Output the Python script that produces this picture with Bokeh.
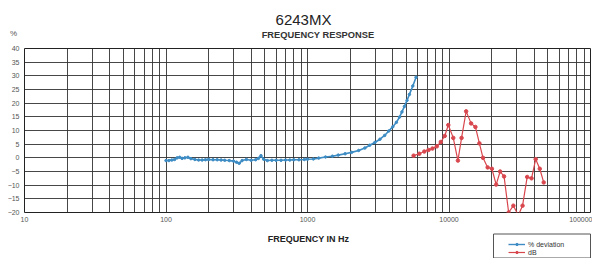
from bokeh.plotting import figure
from bokeh.layouts import column
from bokeh.models import FixedTicker, PrintfTickFormatter, Legend, LegendItem, Range1d
from bokeh.core.properties import value
from bokeh.embed import file_html
from bokeh.resources import INLINE

# ---- data ----
dev_freq = [100, 105, 110, 115, 120, 125, 130, 136, 143, 150, 160, 170, 180, 190, 200,
            215, 230, 245, 260, 280, 300, 315, 329, 345, 370, 400, 430, 450, 469, 490,
            520, 560, 600, 650, 700, 750, 800, 870, 950, 1000, 1100, 1200, 1340, 1500,
            1650, 1845, 2050, 2300, 2545, 2750, 2990, 3250, 3510, 3750, 4010, 4250,
            4470, 4650, 4840, 5050, 5250, 5550, 5850]
dev_pct = [-1.0, -1.0, -0.8, -0.6, 0.0, 0.2, -0.2, 0.0, 0.2, -0.3, -0.6, -0.8, -0.8, -0.7, -0.6,
           -0.7, -0.7, -0.8, -0.9, -1.0, -1.2, -1.6, -2.0, -1.0, -0.6, -0.9, -0.7, -0.2, 0.8, -0.5,
           -1.0, -0.9, -0.9, -0.9, -0.8, -0.8, -0.7, -0.7, -0.6, -0.5, -0.4, -0.1, 0.3, 0.6,
           1.0, 1.5, 2.0, 2.7, 3.6, 4.6, 5.6, 6.8, 8.2, 9.8, 11.4, 13.0,
           14.9, 16.8, 18.8, 21.0, 23.2, 26.3, 29.5]

db_freq = [5620, 6170, 6690, 7170, 7640, 8200, 8750, 9330, 9890, 10720, 11560, 12270,
           13220, 14330, 15370, 16400, 17390, 18750, 20100, 21550, 22980, 24500, 26400,
           28500, 30900, 33100, 35700, 38300, 41000, 43800, 46700]
db_val = [0.8, 1.5, 2.3, 2.9, 3.4, 4.2, 5.8, 8.0, 12.0, 7.3, -1.0, 7.3,
          17.0, 12.6, 11.3, 5.3, 0.0, -3.5, -4.0, -9.8, -5.0, -6.8, -20.0,
          -17.5, -21.0, -17.5, -7.0, -7.5, -0.5, -4.0, -9.0]

x_major = [10, 100, 1000, 10000, 100000]
x_minor = [m * d for d in [10, 100, 1000, 10000] for m in range(2, 10)]
y_ticks = list(range(-20, 45, 5))

series_names = ["% deviation", "dB"]
title_text = "6243MX"
subtitle_text = "FREQUENCY RESPONSE"
y_unit_text = "%"
x_label_text = "FREQUENCY IN Hz"

W = 592
BLUE = "#3d8cc4"
RED = "#d9474e"
FONT = "Liberation Sans"
NAN = float("nan")

def strip(h):
    f = figure(width=W, height=h, x_range=Range1d(0, W), y_range=Range1d(h, 0),
               output_backend="svg", toolbar_location=None,
               x_axis_location=None, y_axis_location=None,
               min_border_left=0, min_border_right=0, min_border_top=0, min_border_bottom=0)
    if "frame_align" in f.properties():
        f.frame_align = False
    f.grid.visible = False
    f.outline_line_color = None
    f.background_fill_color = "white"
    f.border_fill_color = "white"
    return f

# ---- top strip: titles ----
top = strip(40)
top.text(x=[303], y=[18.5], text=[title_text], text_font=value(FONT),
         text_font_size="15px", text_align="center", text_baseline="middle", text_color="#222222")
top.text(x=[317.5], y=[34.5], text=[subtitle_text], text_font=value(FONT), text_font_style="bold",
         text_font_size="9.3px", text_align="center", text_baseline="middle", text_color="#333333")
top.text(x=[13], y=[33], text=[y_unit_text], text_font=value(FONT),
         text_font_size="8px", text_align="center", text_baseline="middle", text_color="#555555")

# ---- main chart ----
p = figure(width=W, height=192, x_axis_type="log", x_range=(10, 100000), y_range=(-20, 40),
           output_backend="svg", toolbar_location=None,
           min_border_left=24, min_border_right=2, min_border_top=8, min_border_bottom=20)
if "frame_align" in p.properties():
    p.frame_align = False
p.background_fill_color = "white"
p.border_fill_color = "white"
p.outline_line_color = "#222222"
p.outline_line_width = 1

p.xaxis.ticker = FixedTicker(ticks=x_major, minor_ticks=x_minor)
p.yaxis.ticker = FixedTicker(ticks=y_ticks)
p.xaxis.formatter = PrintfTickFormatter(format="%d")
for ax in (p.xaxis, p.yaxis):
    ax.axis_line_color = None
    ax.major_tick_line_color = None
    ax.minor_tick_line_color = None
    ax.major_tick_out = 0
    ax.minor_tick_out = 0
    ax.major_label_text_font = FONT
    ax.major_label_text_font_size = "7px"
    ax.major_label_text_color = "#555555"
p.xaxis.major_label_standoff = 4
p.yaxis.major_label_standoff = 5

p.xgrid.grid_line_color = "#333333"
p.xgrid.minor_grid_line_color = "#333333"
p.xgrid.grid_line_alpha = 0.9
p.xgrid.minor_grid_line_alpha = 0.9
p.ygrid.grid_line_color = "#333333"
p.ygrid.grid_line_alpha = 0.9

p.line(dev_freq, dev_pct, line_color=BLUE, line_width=1.6)
p.scatter(dev_freq, dev_pct, size=2.5, color=BLUE)
p.line(db_freq, db_val, line_color=RED, line_width=1.2)
p.scatter(db_freq, db_val, size=3.5, color=RED)

# ---- bottom strip: x label and legend ----
bot = strip(26)
bot.text(x=[308], y=[6], text=[x_label_text], text_font=value(FONT), text_font_style="bold",
         text_font_size="9px", text_align="center", text_baseline="middle", text_color="#222222")
bot.quad(left=[493], right=[590], top=[1.5], bottom=[25.5], fill_color="white",
         line_color="#555555", line_width=1)
# legend-only renderers (no visible data)
l1 = bot.line([NAN], [NAN], line_color=BLUE, line_width=1.4)
m1 = bot.scatter([NAN], [NAN], size=3, color=BLUE)
l2 = bot.line([NAN], [NAN], line_color=RED, line_width=1.2)
m2 = bot.scatter([NAN], [NAN], size=3, color=RED)
legend = Legend(items=[LegendItem(label=series_names[0], renderers=[l1, m1]),
                       LegendItem(label=series_names[1], renderers=[l2, m2])],
                location=(508, 2), orientation="vertical")
legend.label_text_font = FONT
legend.label_text_font_size = "7px"
legend.label_text_color = "#333333"
legend.glyph_width = 17
legend.glyph_height = 6
legend.label_height = 8
legend.spacing = 0
legend.padding = 3
legend.margin = 0
legend.border_line_color = None
legend.background_fill_alpha = 0
legend.label_standoff = 3
bot.add_layout(legend, "center")

layout = column(top, p, bot, spacing=0)
open("out.html", "w").write(file_html(layout, INLINE))
